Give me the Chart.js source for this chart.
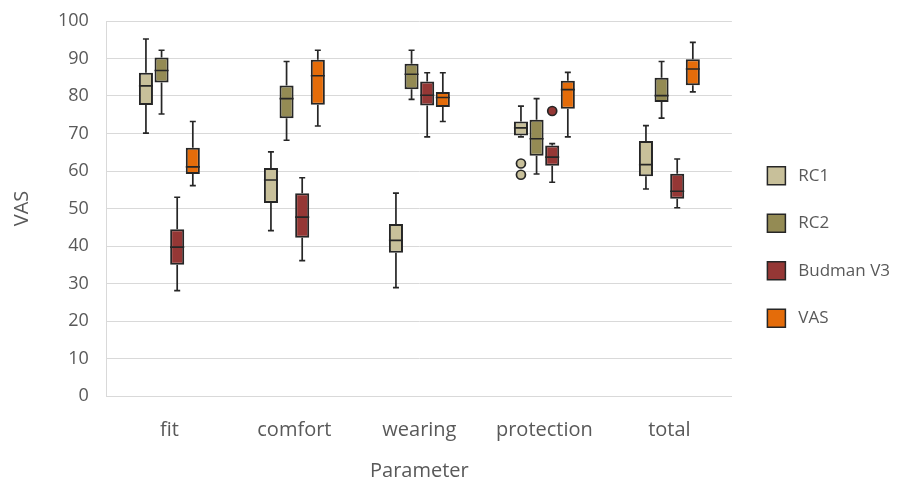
<!DOCTYPE html>
<html>
<head>
<meta charset="utf-8">
<script src="https://cdn.jsdelivr.net/npm/chart.js@4.4.1/dist/chart.umd.min.js"></script>
<style>
  html, body { margin: 0; padding: 0; background: #fff; }
  #wrap { width: 906px; height: 483px; position: relative; }
</style>
</head>
<body>
<div id="wrap"><canvas id="grafico"></canvas></div>
<script>
const categorias = ['fit', 'comfort', 'wearing', 'protection', 'total'];
const series = ['RC1', 'RC2', 'Budman V3', 'VAS'];
const colores = ['#c8c09a', '#948b54', '#953735', '#e46c0a'];
const yTicks = [0, 10, 20, 30, 40, 50, 60, 70, 80, 90, 100];

// [min, q1, mediana, q3, max] por categoria
const rc1Stats = [
    [70.1, 77.6, 82.7, 86.2, 95.2],
    [44.1, 51.5, 57.6, 60.8, 65.1],
    [28.9, 38.2, 41.5, 45.9, 54.1],
    [69.1, 69.5, 71.5, 73.2, 77.3],
    [55.2, 58.6, 61.7, 68.0, 72.1]
];
const rc2Stats = [
    [75.2, 83.6, 86.8, 90.3, 92.2],
    [68.2, 74.1, 79.3, 82.8, 89.2],
    [79.1, 81.8, 85.8, 88.6, 92.2],
    [59.2, 64.1, 68.6, 73.7, 79.3],
    [74.1, 78.4, 80.1, 84.9, 89.2]
];
const budmanStats = [
    [28.1, 35.0, 39.7, 44.5, 53.0],
    [36.1, 42.2, 47.7, 54.1, 58.2],
    [69.1, 77.5, 80.2, 83.9, 86.2],
    [57.0, 61.4, 63.7, 66.8, 67.3],
    [50.2, 52.6, 54.6, 59.3, 63.2]
];
const vasStats = [
    [56.1, 59.2, 61.1, 66.2, 73.2],
    [72.0, 77.7, 85.4, 89.7, 92.2],
    [73.2, 77.1, 79.6, 81.1, 86.2],
    [69.1, 76.6, 81.7, 84.1, 86.3],
    [81.1, 82.9, 87.2, 89.8, 94.3]
];
const rc1Outliers = [[], [], [], [62, 59], []];
const rc2Outliers = [[], [], [], [], []];
const budmanOutliers = [[], [], [], [76], []];
const vasOutliers = [[], [], [], [], []];

const todasStats = [rc1Stats, rc2Stats, budmanStats, vasStats];
const todosOutliers = [rc1Outliers, rc2Outliers, budmanOutliers, vasOutliers];

const fuente = "'Open Sans', sans-serif";
const gris = '#595959';
const borde = '#262626';
const extraLeyenda = 6;
const subirLeyenda = 5;

// bigotes, medianas y atipicos
const bigotesPlugin = {
    id: 'bigotes',
    afterDatasetsDraw(chart) {
        const ctx = chart.ctx;
        const y = chart.scales.y;
        ctx.save();
        ctx.strokeStyle = borde;
        ctx.lineWidth = 1.7;
        chart.data.datasets.forEach((ds, i) => {
            const meta = chart.getDatasetMeta(i);
            meta.data.forEach((bar, j) => {
                const s = todasStats[i][j];
                const x = bar.x;
                const w = bar.width;
                const yMin = y.getPixelForValue(s[0]);
                const yQ1 = y.getPixelForValue(s[1]);
                const yMed = y.getPixelForValue(s[2]);
                const yQ3 = y.getPixelForValue(s[3]);
                const yMax = y.getPixelForValue(s[4]);
                ctx.beginPath();
                ctx.moveTo(x, yQ3); ctx.lineTo(x, yMax);
                ctx.moveTo(x - 3, yMax); ctx.lineTo(x + 3, yMax);
                ctx.moveTo(x, yQ1); ctx.lineTo(x, yMin);
                ctx.moveTo(x - 3, yMin); ctx.lineTo(x + 3, yMin);
                ctx.moveTo(x - w / 2, yMed); ctx.lineTo(x + w / 2, yMed);
                ctx.stroke();
                todosOutliers[i][j].forEach(v => {
                    ctx.beginPath();
                    ctx.arc(x, y.getPixelForValue(v), 4.5, 0, Math.PI * 2);
                    ctx.fillStyle = colores[i];
                    ctx.fill();
                    ctx.stroke();
                });
            });
        });
        ctx.restore();
    }
};

// deja un hueco entre el area del grafico y la leyenda
const huecoLeyenda = {
    id: 'huecoLeyenda',
    beforeLayout(chart) {
        const lg = chart.legend;
        if (lg && !lg._ajustado) {
            const fitOriginal = lg.fit;
            lg.fit = function () {
                fitOriginal.call(this);
                this.width += extraLeyenda;
            };
            lg._ajustado = true;
        }
    },
    afterLayout(chart) {
        chart.legend.left += extraLeyenda;
        chart.legend.top -= subirLeyenda;
        chart.legend.bottom -= subirLeyenda;
    }
};

const datasets = series.map((nombre, i) => ({
    label: nombre,
    data: todasStats[i].map(s => [s[1], s[3]]),
    backgroundColor: colores[i],
    borderColor: borde,
    borderWidth: 2,
    borderSkipped: false
}));

new Chart(document.getElementById('grafico'), {
    type: 'bar',
    data: { labels: categorias, datasets: datasets },
    plugins: [bigotesPlugin, huecoLeyenda],
    options: {
        responsive: true,
        maintainAspectRatio: false,
        animation: false,
        categoryPercentage: 0.5,
        barPercentage: 0.9,
        layout: { padding: { top: 21, left: 10, right: 6, bottom: 0 } },
        plugins: {
            tooltip: { enabled: false },
            legend: {
                position: 'right',
                labels: {
                    color: gris,
                    font: { family: fuente, size: 17 },
                    boxWidth: 18,
                    boxHeight: 18,
                    padding: 29.5,
                    generateLabels: (chart) => Chart.defaults.plugins.legend.labels.generateLabels(chart)
                        .map(item => Object.assign(item, { text: ' ' + item.text, lineWidth: 1.5 }))
                }
            }
        },
        scales: {
            x: {
                grid: { display: false, drawTicks: false },
                border: { display: true, color: '#d9d9d9' },
                ticks: { color: gris, font: { family: fuente, size: 20 }, padding: 22 },
                title: { display: true, text: 'Parameter', color: gris, font: { family: fuente, size: 20 }, padding: { top: -5, bottom: 0 } }
            },
            y: {
                min: 0,
                max: 100,
                afterBuildTicks: (scale) => { scale.ticks = yTicks.map(v => ({ value: v })); },
                grid: { color: '#d9d9d9', lineWidth: 1, drawTicks: true, tickLength: 18, tickColor: 'rgba(0,0,0,0)' },
                border: { display: true, color: '#d9d9d9' },
                ticks: { color: gris, font: { family: fuente, size: 18 }, padding: 0 },
                title: { display: true, text: 'VAS', color: gris, font: { family: fuente, size: 20 }, padding: { top: 0, bottom: 24 } }
            }
        }
    }
});
</script>
</body>
</html>
